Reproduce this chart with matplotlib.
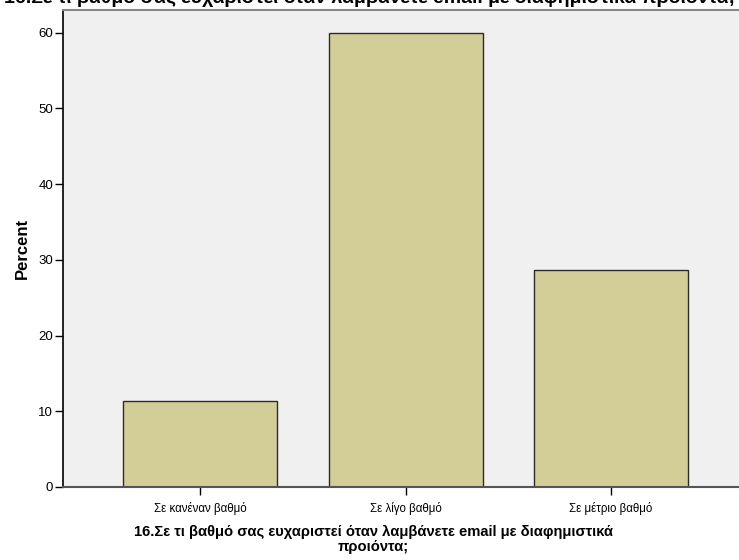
import matplotlib
matplotlib.use("Agg")
import matplotlib.pyplot as plt

plt.rcParams['font.family'] = ['Liberation Sans', 'DejaVu Sans']

# ------------------------------
# Data
# ------------------------------
categories = ["Σε κανέναν βαθμό", "Σε λίγο βαθμό", "Σε μέτριο βαθμό"]
percent = [11.3, 60.0, 28.7]
yticks = [0, 10, 20, 30, 40, 50, 60]
question = "16.Σε τι βαθμό σας ευχαριστεί όταν λαμβάνετε email με διαφημιστικά προιόντα;"
xlabel_text = "16.Σε τι βαθμό σας ευχαριστεί όταν λαμβάνετε email με διαφημιστικά\nπροιόντα;"

fig = plt.figure(figsize=(7.39, 5.6), dpi=100)
ax = fig.add_axes([0.0853, 0.1304, 0.927, 0.8516])
ax.set_facecolor("#F0F0F0")

x = list(range(len(categories)))
ax.bar(x, percent, width=0.75, color="#D3CE97", edgecolor="#2b2b2b", linewidth=1.0, zorder=2)

ax.set_xlim(-0.667, 2.667)
ax.set_ylim(0, 63)
ax.set_yticks(yticks)
ax.set_xticks(x)
ax.set_xticklabels(categories, fontsize=8.3)
ax.tick_params(axis="y", labelsize=9.5, length=6, width=1, direction="out", pad=1)
ax.tick_params(axis="x", length=6, width=1, direction="out", pad=5)

ax.spines["left"].set_color("black")
ax.spines["left"].set_linewidth(1.2)
ax.spines["bottom"].set_color("#555555")
ax.spines["bottom"].set_linewidth(1.5)
ax.spines["top"].set_color("#888888")
ax.spines["top"].set_linewidth(1.5)
ax.spines["right"].set_visible(False)

ax.set_ylabel("Percent", fontsize=12, fontweight="bold", labelpad=6)

# x label (wrapped, centred on figure)
fig.text(0.505, 0.062, xlabel_text, ha="center", va="top", fontsize=10.6,
         fontweight="bold", linespacing=1.08)

# chart title, cut off at the top like the original
fig.text(0.5, 0.987, question, ha="center", va="bottom", fontsize=14, fontweight="bold")

fig.savefig("out.png", dpi=100)
